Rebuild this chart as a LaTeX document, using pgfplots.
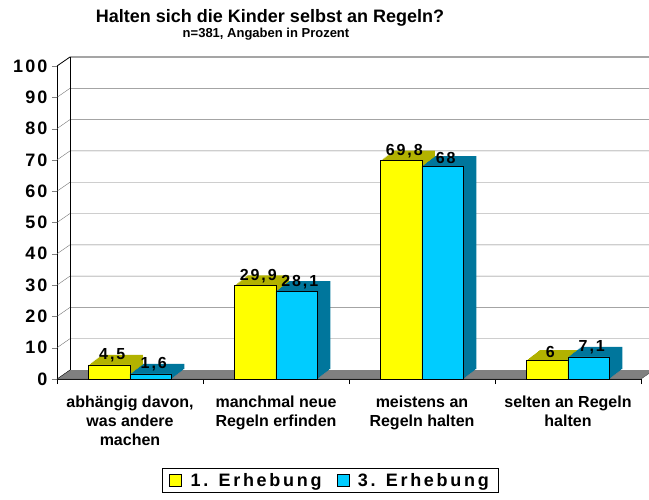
\documentclass[border=0pt]{standalone}
\usepackage{fontspec}
\setmainfont{Liberation Sans}
\newfontfamily\heavy{Liberation Sans Bold}
\newfontfamily\spaced{Liberation Sans Bold}[LetterSpace=12]
\newfontfamily\legendfont{Liberation Sans Bold}[LetterSpace=15]
\usepackage{pgfplots}
\usepackage{pgfplotstable}
\pgfplotsset{compat=1.18}

\definecolor{barYellow}{RGB}{255,255,0}
\definecolor{barYellowDark}{RGB}{178,178,0}
\definecolor{barBlue}{RGB}{0,204,255}
\definecolor{barBlueDark}{RGB}{0,118,156}
\definecolor{floorGray}{RGB}{128,128,128}

% 1. Erhebung
\pgfplotstableread{
x y
0 4.5
1 29.9
2 69.8
3 6
}\ersteErhebung
% 3. Erhebung
\pgfplotstableread{
x y
0 1.6
1 28.1
2 68
3 7.1
}\dritteErhebung

\begin{document}
\begin{tikzpicture}
\begin{axis}[
  name=ax,
  scale only axis, width=584pt, height=313pt,
  xmin=-0.5, xmax=3.5, ymin=0, ymax=100,
  clip=false,
  ybar, bar width=41.5pt,
  axis x line=bottom, axis y line=left,
  axis line style={-, black},
  tick align=outside,
  major tick length=5pt, minor tick length=5pt,
  ytick={0,10,...,100},
  xtick={0,1,2,3},
  minor xtick={-0.5,0.5,1.5,2.5,3.5},
  major x tick style={draw=none},
  minor x tick style={black},
  xticklabels={{abhängig davon,\\was andere\\machen},
               {manchmal neue\\Regeln erfinden},
               {meistens an\\Regeln halten},
               {selten an Regeln\\halten}},
  xticklabel style={align=center, font=\heavy\fontsize{16}{19}\selectfont, yshift=-8pt},
  yticklabel style={font=\spaced\fontsize{18}{20}\selectfont, xshift=-1pt},
  /pgf/number format/.cd, use comma, 1000 sep={}, assume math mode=true,
  /pgfplots/.cd,
  legend style={at={(0.4675,-0.284)}, anchor=north, legend columns=2,
    draw=black, inner xsep=7pt, inner ysep=3pt,
    font=\legendfont\fontsize{18}{20}\selectfont,
    /tikz/every odd column/.append style={column sep=7pt},
    /tikz/every even column/.append style={column sep=13pt}},
  legend image code/.code={\draw[#1, draw=black] (0pt,-6pt) rectangle (12pt,6pt);},
]
% floor
\fill[floorGray] (axis cs:-0.5,0) -- (axis cs:3.5,0) -- ++(13pt,9pt)
  -- ([shift={(13pt,9pt)}]axis cs:-0.5,0) -- cycle;
\draw[black!70] (axis cs:-0.5,0) -- (axis cs:3.5,0) -- ++(13pt,9pt);
% back wall grid
\pgfplotsinvokeforeach{10,20,...,90}{
  \draw[black!55] (axis cs:-0.5,#1) -- ++(13pt,9pt) -- ([shift={(13pt,9pt)}]axis cs:3.5,#1);
}
\draw[black, thick] (axis cs:-0.5,100) -- ++(13pt,9pt) -- ([shift={(13pt,9pt)}]axis cs:3.5,100);
\draw[black] ([shift={(13pt,9pt)}]axis cs:-0.5,0) -- ([shift={(13pt,9pt)}]axis cs:-0.5,100);
\draw[black] (axis cs:-0.5,0) -- ++(13pt,9pt);

% depth of yellow bars
\pgfplotsinvokeforeach{1,...,10}{
  \addplot[fill=barYellowDark, draw=none, forget plot,
    bar shift={-20.75pt+#1*1.3pt}, yshift=#1*1pt]
    table[x=x, y=y] {\ersteErhebung};
}
\addplot[fill=barYellow, draw=black, bar shift=-20.75pt,
  nodes near coords,
  every node near coord/.append style={font=\spaced\fontsize{16}{18}\selectfont, xshift=3pt, yshift=-1pt}]
  table[x=x, y=y] {\ersteErhebung};
% depth of blue bars
\pgfplotsinvokeforeach{1,...,10}{
  \addplot[fill=barBlueDark, draw=none, forget plot,
    bar shift={20.75pt+#1*1.3pt}, yshift=#1*1pt]
    table[x=x, y=y] {\dritteErhebung};
}
\addplot[fill=barBlue, draw=black, bar shift=20.75pt,
  nodes near coords,
  every node near coord/.append style={font=\spaced\fontsize{16}{18}\selectfont, xshift=3pt, yshift=-1pt}]
  table[x=x, y=y] {\dritteErhebung};
\legend{1. Erhebung, 3. Erhebung}
\end{axis}

\node[anchor=base, font=\heavy\fontsize{18}{20}\selectfont]
  at ([shift={(213pt,356.5pt)}]ax.south west) {Halten sich die Kinder selbst an Regeln?};
\node[anchor=base, font=\heavy\fontsize{13}{15}\selectfont]
  at ([shift={(209pt,341pt)}]ax.south west) {n=381, Angaben in Prozent};

\pgfresetboundingbox
\path[use as bounding box] ([shift={(-57pt,-120pt)}]ax.south west)
  rectangle ([shift={(592pt,379pt)}]ax.south west);
\end{tikzpicture}
\end{document}
